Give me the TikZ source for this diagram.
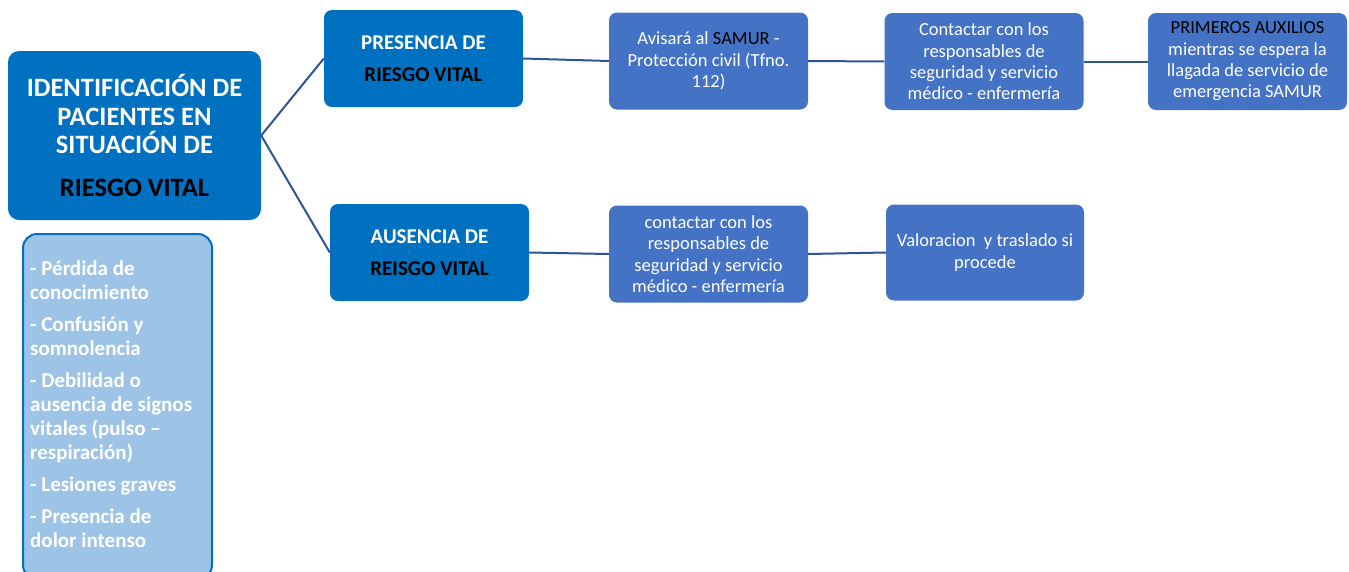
\documentclass[tikz,border=0pt]{standalone}
\usepackage{fontspec}
\setmainfont{Carlito}
\definecolor{darkb}{HTML}{0070C0}
\definecolor{midb}{HTML}{4472C4}
\definecolor{lightb}{HTML}{9DC3E6}
\definecolor{linec}{HTML}{2F5597}
\begin{document}
\begin{tikzpicture}[x=1pt,y=-1pt,
  box/.style={rounded corners=8pt, inner sep=0pt, align=center, text=white},
  dbox/.style={box, fill=darkb, minimum width=199, minimum height=97, font=\bfseries\fontsize{21}{32}\selectfont},
  mbox/.style={box, fill=midb, minimum width=199, minimum height=97, font=\fontsize{18.5}{21.3}\selectfont},
  conn/.style={draw=linec, line width=2pt}]
\useasboundingbox[fill=white] (0,0) rectangle (1349,571);

\node[box, fill=darkb, rounded corners=11pt, minimum width=253, minimum height=169,
  font=\bfseries\fontsize{26.5}{28.5}\selectfont] (main) at (134.5,135.5)
  {IDENTIFICACIÓN DE\\PACIENTES EN\\SITUACIÓN DE\\[14pt]\textcolor{black}{RIESGO VITAL}};

\node[draw=darkb, line width=2pt, fill=lightb, rounded corners=14pt, minimum width=189,
  minimum height=345, anchor=north west, inner sep=0pt] (sym) at (22,233) {};
\node[anchor=north west, inner sep=0pt, align=left, text=white,
  font=\bfseries\fontsize{21}{24}\selectfont] (symtext) at (30,261)
  {- Pérdida de\\conocimiento\\[8pt]- Confusión y\\somnolencia\\[8pt]- Debilidad o\\ausencia de signos\\vitales (pulso –\\respiración)\\[8pt]- Lesiones graves\\[8pt]- Presencia de\\dolor intenso};

\node[dbox] (pres) at (423.5,58.5) {PRESENCIA DE\\\textcolor{black}{RIESGO VITAL}};
\node[mbox] (avisa) at (708.5,61) {Avisará al \textcolor{black}{SAMUR} -\\Protección civil (Tfno.\\112)};
\node[mbox] (cont1) at (984,61.5) {Contactar con los\\responsables de\\seguridad y servicio\\médico - enfermería};
\node[mbox] (prim) at (1247.5,61.5) {\textcolor{black}{PRIMEROS AUXILIOS}\\mientras se espera la\\llagada de servicio de\\emergencia SAMUR};

\node[dbox] (aus) at (429.5,252.5) {AUSENCIA DE\\\textcolor{black}{REISGO VITAL}};
\node[mbox] (cont2) at (708.5,254) {contactar con los\\responsables de\\seguridad y servicio\\médico - enfermería};
\node[mbox, minimum width=198, minimum height=96] (val) at (985,252.5) {Valoracion\ \ y traslado si\\procede};

\draw[conn] (main.east) -- (pres.west);
\draw[conn] (main.east) -- (aus.west);
\draw[conn] (pres.east) -- (avisa.west);
\draw[conn] (avisa.east) -- (cont1.west);
\draw[conn] (cont1.east) -- (prim.west);
\draw[conn] (aus.east) -- (cont2.west);
\draw[conn] (cont2.east) -- (val.west);
\end{tikzpicture}
\end{document}
